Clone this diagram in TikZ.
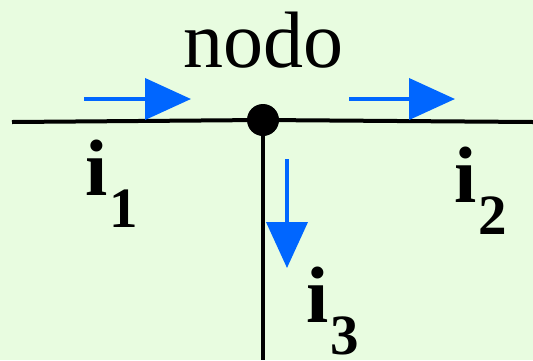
\documentclass[tikz,border=0pt]{standalone}
\usepackage{fontspec}
\setmainfont{Liberation Serif}
\usetikzlibrary{arrows.meta}
\definecolor{bgreen}{RGB}{232,252,224}
\definecolor{iblue}{RGB}{0,102,255}
\newcommand{\isub}[1]{i\kern2pt\raisebox{-32pt}{\fontsize{57}{60}\selectfont #1}}

\begin{document}
\begin{tikzpicture}[x=1pt,y=-1pt,
  wire/.style={line width=4pt},
  curr/.style={iblue,line width=4pt,-{Triangle[length=46pt,width=41pt]}},
  lab/.style={anchor=base west,inner sep=0pt,font=\fontsize{80}{90}\selectfont\bfseries}]
\useasboundingbox (0,0) rectangle (533,360);
\fill[bgreen] (0,0) rectangle (533,360);
\coordinate (w) at (12,122);
\coordinate (e) at (533,122);
\coordinate (s) at (263,360);
\node[circle,fill=black,inner sep=0pt,minimum size=32pt] (nodo) at (263,120) {};
\draw[wire] (w)--(nodo)--(e);
\draw[wire] (nodo)--(s);
\node[anchor=base,inner sep=0pt,font=\fontsize{80}{90}\selectfont] (tnodo) at (263,67) {nodo};
% correnti
\coordinate (a1) at (84,99);  \coordinate (b1) at (191,99);
\coordinate (a2) at (349,99); \coordinate (b2) at (455,99);
\coordinate (a3) at (287,159); \coordinate (b3) at (287,268);
\draw[curr] (a1)--(b1);
\draw[curr] (a2)--(b2);
\draw[curr] (a3)--(b3);
\node[lab] (i1) at (85,195) {\isub{1}};
\node[lab] (i2) at (454,202) {\isub{2}};
\node[lab] (i3) at (306,322) {\isub{3}};
\end{tikzpicture}
\end{document}
